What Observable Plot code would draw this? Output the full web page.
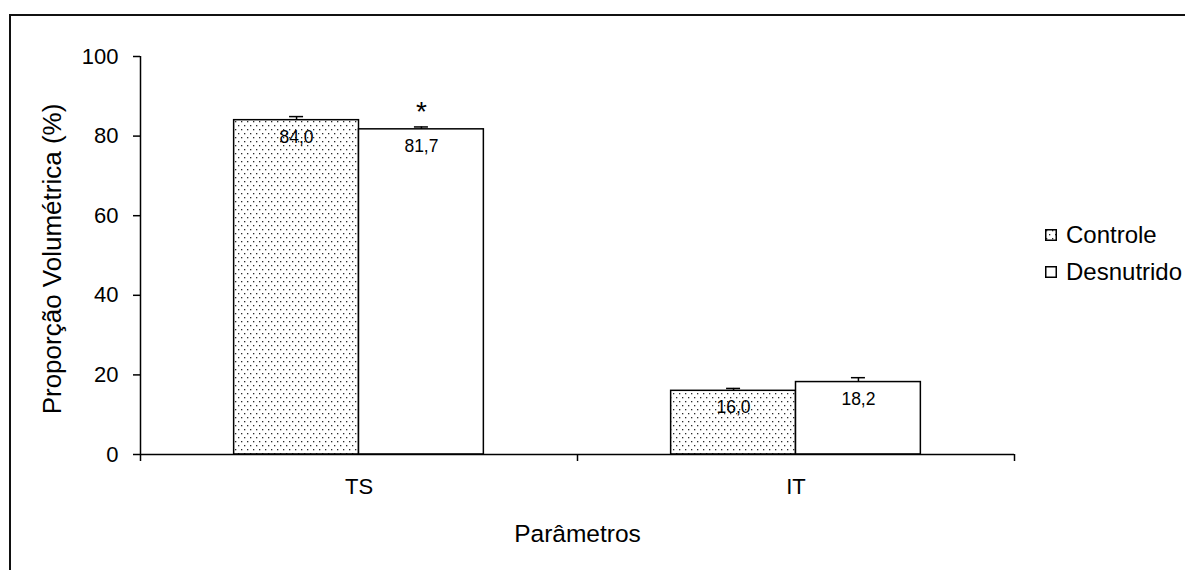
<!DOCTYPE html>
<html>
<head>
<meta charset="utf-8">
<script src="https://cdn.jsdelivr.net/npm/d3@7"></script>
<script src="https://cdn.jsdelivr.net/npm/@observablehq/plot@0.6"></script>
<style>
  html, body { margin: 0; padding: 0; background: #fff; }
  #wrap { position: relative; width: 1185px; height: 570px; overflow: hidden;
          font-family: "Liberation Sans", Arial, sans-serif; color: #000; }
  #border { position: absolute; left: 9px; top: 14px; width: 3000px; height: 3000px;
            border-top: 2px solid #111; border-left: 2px solid #111; box-sizing: border-box; }
  #chart { position: absolute; left: 0; top: 0; }
  #legend { position: absolute; left: 1045px; top: 216px; font-size: 24px; }
  .item { display: flex; align-items: center; height: 37px; white-space: nowrap; }
  .item svg { margin-right: 9px; flex: none; }
</style>
</head>
<body>
<svg width="0" height="0" style="position:absolute">
  <defs>
    <pattern id="dots" width="6" height="8" patternUnits="userSpaceOnUse">
      <rect width="6" height="8" fill="#fff"></rect>
      <rect x="1" y="1" width="1.3" height="1.3" fill="#2a2a2a"></rect>
      <rect x="4" y="5" width="1.3" height="1.3" fill="#2a2a2a"></rect>
    </pattern>
  </defs>
</svg>
<div id="wrap">
  <div id="border"></div>
  <div id="chart"></div>
  <div id="legend"></div>
</div>
<script>
// ---- data ----
const categories = ["TS", "IT"];
const series = ["Controle", "Desnutrido"];
const controleValues = [84.0, 16.0];
const desnutridoValues = [81.7, 18.2];
const controleErrors = [0.9, 0.6];
const desnutridoErrors = [0.6, 1.1];
const controleMarks = ["", ""];
const desnutridoMarks = ["*", ""];
const yTicks = [0, 20, 40, 60, 80, 100];
const yDomain = [0, 100];
const xTitle = "Parâmetros";
const yTitle = "Proporção Volumétrica (%)";
const seriesFills = ["url(#dots)", "#fff"];

// ---- table built from the arrays ----
const valuesBySeries = [controleValues, desnutridoValues];
const errorsBySeries = [controleErrors, desnutridoErrors];
const marksBySeries = [controleMarks, desnutridoMarks];
const rows = [];
series.forEach((s, si) => categories.forEach((c, ci) => rows.push({
  category: c, series: s, value: valuesBySeries[si][ci],
  err: errorsBySeries[si][ci], mark: marksBySeries[si][ci]
})));

// ---- layout ----
const W = 1185, H = 570;
const mL = 140, mR = 171, mT = 56, mB = 109;
const gapWidth = 1.5;      // Excel-style gap between groups (x bar width)
const capHalf = 7;
const band = d3.scaleBand().domain(categories).range([mL, W - mR]);
const bw = band.bandwidth();
const barW = bw / (series.length + gapWidth);
const leftInset = i => barW * gapWidth / 2 + i * barW;
const centerOffset = i => leftInset(i) + barW / 2 - bw / 2;
const fmt = v => d3.format(".1f")(v).replace(".", ",");

const marks = [];
series.forEach((s, i) => {
  const data = rows.filter(d => d.series === s);
  const li = leftInset(i);
  const ri = bw - li - barW;
  const cx = li + barW / 2;
  marks.push(
    Plot.barY(data, {x: "category", y: "value", fill: seriesFills[i], stroke: "#000",
      strokeWidth: 1.5, insetLeft: li, insetRight: ri}),
    Plot.ruleX(data, {x: "category", y1: "value", y2: d => d.value + d.err,
      dx: centerOffset(i), stroke: "#000", strokeWidth: 1.5}),
    Plot.tickY(data, {x: "category", y: d => d.value + d.err,
      insetLeft: cx - capHalf, insetRight: bw - cx - capHalf, stroke: "#000", strokeWidth: 1.5}),
    Plot.text(data, {x: "category", y: "value", text: d => fmt(d.value), dx: centerOffset(i),
      dy: 10, lineAnchor: "top", fontSize: 17.5, fill: "#000"}),
    Plot.text(data, {x: "category", y: d => d.value + d.err, text: "mark", dx: centerOffset(i),
      dy: -6, lineAnchor: "bottom", fontSize: 28, fill: "#000"})
  );
});

const chart = Plot.plot({
  width: W, height: H,
  marginLeft: mL, marginRight: mR, marginTop: mT, marginBottom: mB,
  style: {fontFamily: '"Liberation Sans", Arial, sans-serif', fontSize: "22px", color: "#000", background: "transparent", overflow: "visible"},
  x: {type: "band", domain: categories, padding: 0},
  y: {domain: yDomain, insetBottom: 7},
  marks: [
    ...marks,
    Plot.ruleY([0], {stroke: "#000", strokeWidth: 1.5}),
    // y axis line (extends to the first category boundary tick)
    Plot.ruleX([categories[0]], {x: d => d, y1: yDomain[1], y2: null, dx: -bw / 2, stroke: "#000", strokeWidth: 1.5}),
    // category boundary ticks
    Plot.ruleX(categories.slice(1), {x: d => d, y1: 0, y2: null, dx: -bw / 2, stroke: "#000", strokeWidth: 1.5}),
    Plot.ruleX(categories.slice(-1), {x: d => d, y1: 0, y2: null, dx: bw / 2, stroke: "#000", strokeWidth: 1.5}),
    Plot.axisY({ticks: yTicks, tickSize: 7, tickPadding: 15, strokeWidth: 1.5, label: null, fontSize: 22}),
    Plot.axisY({ticks: [], label: yTitle, labelAnchor: "center", labelArrow: "none", labelOffset: 98, fontSize: 26}),
    Plot.axisX({tickSize: 0, tickPadding: 17, label: null, fontSize: 22}),
    Plot.axisX({ticks: [], label: xTitle, labelAnchor: "center", labelArrow: "none", labelOffset: 80, fontSize: 24.5})
  ]
});
document.getElementById("chart").appendChild(chart);

// ---- legend ----
const legend = document.getElementById("legend");
series.forEach((s, i) => {
  const item = document.createElement("div");
  item.className = "item";
  item.innerHTML = `<svg width="12" height="12"><rect x="0.75" y="0.75" width="10.5" height="10.5" fill="${seriesFills[i]}" stroke="#000" stroke-width="1.5"></rect></svg><span>${s}</span>`;
  legend.appendChild(item);
});
</script>
</body>
</html>
